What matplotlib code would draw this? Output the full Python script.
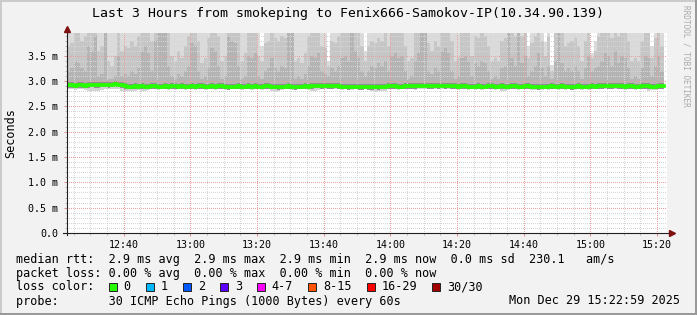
import numpy as np
import matplotlib
matplotlib.use("Agg")
import matplotlib.pyplot as plt
from matplotlib.ticker import MultipleLocator
from matplotlib.patches import Rectangle

W, H = 697, 315
plt.rcParams['font.family'] = ['DejaVu Sans Mono', 'DejaVu Sans']

# time axis: minutes after 12:00, window 12:22:59 .. 15:22:59
t_start = 22 + 59 / 60.0
t_end = t_start + 180

# median rtt per minute (ms)
median = [
    2.92, 2.92, 2.91, 2.92, 2.92, 2.91, 2.92, 2.93, 2.92, 2.92, 2.93, 2.93, 2.92, 2.93, 2.94, 2.93, 2.92, 2.90, 2.89, 2.89,
    2.90, 2.89, 2.90, 2.89, 2.89, 2.90, 2.90, 2.89, 2.89, 2.90, 2.89, 2.90, 2.90, 2.89, 2.90, 2.89, 2.89, 2.90, 2.89, 2.90,
    2.90, 2.89, 2.89, 2.90, 2.89, 2.90, 2.90, 2.89, 2.88, 2.89, 2.89, 2.90, 2.89, 2.89, 2.90, 2.89, 2.90, 2.89, 2.89, 2.90,
    2.90, 2.89, 2.89, 2.88, 2.89, 2.89, 2.90, 2.89, 2.88, 2.89, 2.89, 2.90, 2.89, 2.90, 2.91, 2.91, 2.90, 2.91, 2.90, 2.90,
    2.91, 2.90, 2.89, 2.89, 2.88, 2.89, 2.89, 2.88, 2.88, 2.89, 2.88, 2.88, 2.89, 2.88, 2.89, 2.89, 2.90, 2.90, 2.90, 2.89,
    2.89, 2.90, 2.90, 2.90, 2.90, 2.91, 2.91, 2.91, 2.90, 2.90, 2.91, 2.90, 2.91, 2.90, 2.91, 2.90, 2.90, 2.89, 2.90, 2.90,
    2.89, 2.89, 2.89, 2.90, 2.89, 2.89, 2.90, 2.90, 2.89, 2.89, 2.90, 2.89, 2.89, 2.90, 2.90, 2.89, 2.89, 2.90, 2.90, 2.89,
    2.89, 2.88, 2.89, 2.89, 2.89, 2.90, 2.89, 2.89, 2.90, 2.89, 2.89, 2.88, 2.89, 2.90, 2.89, 2.89, 2.89, 2.90, 2.89, 2.90,
    2.90, 2.91, 2.90, 2.90, 2.91, 2.90, 2.90, 2.89, 2.90, 2.90, 2.89, 2.89, 2.90, 2.90, 2.90, 2.89, 2.89, 2.90, 2.90,
]

# lowest ping per minute (ms)
smoke_lo = [
    2.84, 2.84, 2.83, 2.84, 2.84, 2.83, 2.80, 2.80, 2.81, 2.80, 2.82, 2.84, 2.84, 2.85, 2.85, 2.84, 2.81, 2.80, 2.80, 2.81,
    2.80, 2.82, 2.80, 2.81, 2.82, 2.84, 2.84, 2.83, 2.84, 2.84, 2.83, 2.84, 2.83, 2.84, 2.84, 2.83, 2.84, 2.84, 2.82, 2.84,
    2.84, 2.83, 2.84, 2.84, 2.82, 2.84, 2.84, 2.83, 2.82, 2.84, 2.84, 2.84, 2.83, 2.84, 2.84, 2.83, 2.84, 2.84, 2.83, 2.84,
    2.84, 2.80, 2.79, 2.80, 2.83, 2.84, 2.84, 2.83, 2.82, 2.84, 2.84, 2.84, 2.83, 2.80, 2.80, 2.83, 2.84, 2.84, 2.84, 2.84,
    2.84, 2.84, 2.83, 2.84, 2.82, 2.83, 2.84, 2.83, 2.82, 2.84, 2.83, 2.80, 2.79, 2.80, 2.80, 2.81, 2.84, 2.84, 2.84, 2.83,
    2.84, 2.84, 2.84, 2.84, 2.83, 2.85, 2.85, 2.84, 2.84, 2.84, 2.85, 2.84, 2.84, 2.84, 2.85, 2.84, 2.84, 2.83, 2.84, 2.84,
    2.83, 2.84, 2.83, 2.84, 2.83, 2.84, 2.84, 2.84, 2.83, 2.84, 2.80, 2.80, 2.83, 2.84, 2.84, 2.83, 2.84, 2.84, 2.84, 2.83,
    2.83, 2.82, 2.83, 2.84, 2.83, 2.84, 2.84, 2.83, 2.84, 2.83, 2.84, 2.82, 2.83, 2.84, 2.83, 2.84, 2.83, 2.84, 2.84, 2.84,
    2.84, 2.85, 2.84, 2.84, 2.85, 2.84, 2.84, 2.83, 2.84, 2.84, 2.83, 2.84, 2.84, 2.84, 2.80, 2.82, 2.83, 2.84, 2.84,
]

# top of the darker smoke layer (ms)
dark_top = [
    3.20, 3.25, 3.40, 3.35, 3.25, 3.20, 3.70, 3.60, 3.90, 3.10, 3.15, 4.30, 3.05, 3.05, 3.10, 3.50, 3.10, 3.15, 3.10, 3.20,
    3.15, 3.25, 3.60, 3.70, 3.55, 3.20, 3.80, 4.30, 4.30, 4.30, 3.30, 3.10, 3.05, 3.15, 3.10, 3.20, 3.30, 3.75, 3.70, 3.20,
    3.05, 3.10, 3.25, 3.65, 3.60, 3.30, 3.05, 3.10, 3.90, 3.80, 3.75, 3.30, 3.05, 3.10, 3.50, 3.45, 3.55, 3.10, 3.05, 3.20,
    3.25, 3.45, 3.25, 3.20, 3.30, 3.25, 4.30, 4.00, 3.05, 3.10, 3.05, 3.15, 3.30, 3.50, 3.45, 3.55, 3.20, 3.15, 3.10, 3.25,
    3.20, 3.30, 3.45, 3.50, 3.40, 4.30, 3.60, 3.45, 3.20, 3.10, 3.20, 3.30, 3.25, 3.35, 3.30, 3.40, 3.20, 3.50, 3.55, 3.45,
    3.50, 3.20, 3.05, 3.10, 3.40, 3.55, 4.30, 4.10, 3.20, 3.15, 3.25, 3.20, 3.60, 3.65, 3.55, 3.20, 3.05, 3.10, 3.45, 3.50,
    3.40, 3.10, 3.35, 3.30, 3.40, 3.35, 3.20, 3.05, 3.10, 3.05, 3.25, 3.30, 4.30, 3.45, 3.30, 4.20, 3.35, 3.50, 3.10, 3.20,
    3.30, 3.55, 3.25, 3.10, 3.30, 3.05, 3.40, 4.30, 3.35, 3.20, 3.25, 3.20, 3.30, 3.20, 3.05, 3.25, 3.50, 3.20, 3.25, 3.30,
    3.40, 3.55, 3.50, 3.30, 3.60, 3.35, 3.50, 3.45, 3.25, 3.05, 3.10, 3.05, 3.25, 3.50, 3.45, 3.10, 3.30, 3.50, 3.20,
]

# top of the medium smoke layer (ms)
mid_top = [
    3.70, 3.75, 4.30, 4.30, 3.80, 3.90, 4.30, 4.30, 4.30, 3.60, 3.70, 4.30, 3.40, 3.30, 3.50, 4.30, 3.60, 3.70, 3.65, 3.80,
    3.70, 3.90, 4.30, 4.30, 4.30, 3.80, 4.30, 4.30, 4.30, 4.30, 4.00, 3.50, 3.40, 3.60, 3.45, 3.70, 3.90, 4.30, 4.30, 3.80,
    3.35, 3.45, 3.85, 4.30, 4.30, 3.90, 3.40, 3.50, 4.30, 4.30, 4.30, 3.95, 3.40, 3.55, 4.30, 4.30, 4.30, 3.50, 3.40, 3.75,
    3.80, 4.30, 3.85, 3.80, 3.90, 3.85, 4.30, 4.30, 3.40, 3.45, 3.35, 3.55, 3.90, 4.30, 4.30, 4.30, 3.70, 3.65, 3.30, 3.80,
    3.75, 3.90, 4.30, 4.30, 4.30, 4.30, 4.30, 4.30, 3.70, 3.40, 3.70, 3.80, 3.75, 3.85, 3.80, 3.95, 3.70, 4.30, 4.30, 4.30,
    4.30, 3.70, 3.40, 3.45, 4.30, 4.30, 4.30, 4.30, 3.75, 3.60, 3.80, 3.70, 4.30, 4.30, 4.30, 3.80, 3.40, 3.45, 4.30, 4.30,
    4.30, 3.50, 3.90, 3.85, 4.00, 3.90, 3.70, 3.40, 3.45, 3.40, 3.80, 3.85, 4.30, 4.30, 3.90, 4.30, 3.90, 4.30, 3.45, 3.75,
    3.90, 4.30, 3.80, 3.50, 3.90, 3.20, 4.00, 4.30, 3.95, 3.70, 3.75, 3.80, 3.85, 3.70, 3.40, 3.80, 4.30, 3.45, 3.60, 3.90,
    4.00, 4.30, 4.30, 3.85, 4.30, 3.90, 4.30, 4.30, 3.80, 3.40, 3.45, 3.40, 3.80, 4.30, 4.30, 3.45, 3.85, 4.30, 3.70,
]

# highest ping per minute (ms); 4.30 = above the graph
smoke_top = [4.30] * 179
smoke_gaps = {58: 3.70, 78: 3.40, 89: 3.60, 138: 3.70, 143: 3.78,
              145: 3.32, 157: 3.55, 158: 3.80, 175: 3.70}
for k, v in smoke_gaps.items():
    smoke_top[k] = v

y_ticks = [0.0, 0.5, 1.0, 1.5, 2.0, 2.5, 3.0, 3.5]
y_tick_labels = ["0.0", "0.5 m", "1.0 m", "1.5 m", "2.0 m", "2.5 m", "3.0 m", "3.5 m"]
x_ticks = [40, 60, 80, 100, 120, 140, 160, 180, 200]
x_tick_labels = ["12:40", "13:00", "13:20", "13:40", "14:00", "14:20", "14:40", "15:00", "15:20"]

loss_labels = ["0", "1", "2", "3", "4-7", "8-15", "16-29", "30/30"]
loss_colors = ["#26ff00", "#00b8ff", "#0059ff", "#5e00ff", "#ff00ff", "#ff5500", "#ff0000", "#a10000"]

rtt_avg, rtt_max, rtt_min, rtt_now, rtt_sd, rtt_ams = 2.9, 2.9, 2.9, 2.9, 0.0, 230.1
loss_avg, loss_max, loss_min, loss_now = 0.00, 0.00, 0.00, 0.00

title = "Last 3 Hours from smokeping to Fenix666-Samokov-IP(10.34.90.139)"
probe = "30 ICMP Echo Pings (1000 Bytes) every 60s"
stamp = "Mon Dec 29 15:22:59 2025"

median = np.array(median)
smoke_lo = np.array(smoke_lo)
smoke_top = np.array(smoke_top)
dark_top = np.minimum(np.array(dark_top), smoke_top)
mid_top = np.minimum(np.array(mid_top), smoke_top)
t = t_start + np.arange(len(median))

fig = plt.figure(figsize=(W / 100, H / 100), dpi=100)
fig.patch.set_facecolor('#F2F2F2')

# bevel border
fig.add_artist(Rectangle((0, 1 - 2 / H), 1, 2 / H, transform=fig.transFigure, color='#CBCBCB', lw=0))
fig.add_artist(Rectangle((0, 0), 2 / W, 1, transform=fig.transFigure, color='#CBCBCB', lw=0))
fig.add_artist(Rectangle((0, 0), 1, 2 / H, transform=fig.transFigure, color='#999999', lw=0))
fig.add_artist(Rectangle((1 - 2 / W, 0), 2 / W, 1, transform=fig.transFigure, color='#999999', lw=0))

ax = fig.add_axes([67 / W, (H - 233) / H, 600 / W, 200 / H])
ax.set_facecolor('white')
ax.set_xlim(t_start, t_end)
ax.set_ylim(0, 3.95)

# smoke layers
core_lo = median - 0.05
core_hi = median + 0.06
ax.bar(t, core_lo - smoke_lo, bottom=smoke_lo, width=1, align='edge', color='#D2D2D2', lw=0, zorder=1)
ax.bar(t, core_hi - core_lo, bottom=core_lo, width=1, align='edge', color='#909090', lw=0, zorder=1)
ax.bar(t, dark_top - core_hi, bottom=core_hi, width=1, align='edge', color='#B4B4B4', lw=0, zorder=1)
ax.bar(t, mid_top - dark_top, bottom=dark_top, width=1, align='edge', color='#C6C6C6', lw=0, zorder=1)
ax.bar(t, smoke_top - mid_top, bottom=mid_top, width=1, align='edge', color='#DBDBDB', lw=0, zorder=1)

# median line, 0 loss colour
ax.step(np.append(t, t[-1] + 1), np.append(median, median[-1]), where='post',
        color=loss_colors[0], lw=2.7, zorder=4)

# ticks
ax.set_xticks(x_ticks)
ax.set_xticklabels(x_tick_labels)
ax.set_yticks(y_ticks)
ax.set_yticklabels(y_tick_labels)
ax.xaxis.set_minor_locator(MultipleLocator(5))
ax.yaxis.set_minor_locator(MultipleLocator(0.1))
ax.tick_params(which='major', length=2.2, width=0.72, color='#E09090', labelsize=7.2, pad=2.5)
ax.tick_params(which='minor', length=1.5, width=0.72, color='#BBBBBB')
ax.tick_params(axis='y', which='major', pad=4)
for s in ax.spines.values():
    s.set_visible(False)

# dotted grid, minor lines skip the major positions
dots = (0.5, (1, 1))
for xm in range(25, 203, 5):
    if xm not in x_ticks:
        ax.axvline(xm, color='#D6D6D6', lw=0.72, ls=dots, zorder=2.5)
for k in range(1, 40):
    if k % 5:
        ax.axhline(k / 10, color='#D6D6D6', lw=0.72, ls=dots, zorder=2.5)
for xm in x_ticks:
    ax.axvline(xm, color='#EBA0A0', lw=0.72, ls=dots, zorder=2.6)
for ym in y_ticks[1:]:
    ax.axhline(ym, color='#EBA0A0', lw=0.72, ls=dots, zorder=2.6)

# axes with arrows
ax.plot([-0.007, 1.006], [0, 0], transform=ax.transAxes, color='#202020', lw=0.8, clip_on=False, zorder=5)
ax.plot([0, 0], [-0.01, 1.02], transform=ax.transAxes, color='#202020', lw=0.8, clip_on=False, zorder=5)
ax.plot(0, 1.022, marker='^', ms=4.2, color='#7F1010', transform=ax.transAxes, clip_on=False, zorder=6)
ax.plot(1.0075, 0, marker='>', ms=4.2, color='#7F1010', transform=ax.transAxes, clip_on=False, zorder=6)

ax.set_ylabel("Seconds", fontsize=8.5, labelpad=8)

def px(x, y):
    return x / W, 1 - y / H

fig.text(*px(348, 14), title, fontsize=9.5, ha='center', va='center')
fig.text(*px(686, 5), "RRDTOOL / TOBI OETIKER", fontsize=5.6, color='#AAAAAA',
         rotation=270, ha='center', va='top')

line1 = ("median rtt:  %.1f ms avg  %.1f ms max  %.1f ms min  %.1f ms now  %.1f ms sd  %.1f   am/s"
         % (rtt_avg, rtt_max, rtt_min, rtt_now, rtt_sd, rtt_ams))
line2 = ("packet loss: %.2f %% avg  %.2f %% max  %.2f %% min  %.2f %% now"
         % (loss_avg, loss_max, loss_min, loss_now))
fs = 8.5
cw = 7.125
fig.text(*px(16, 259), line1, fontsize=fs, ha='left', va='center')
fig.text(*px(16, 273), line2, fontsize=fs, ha='left', va='center')
fig.text(*px(16, 287), "loss color:", fontsize=fs, ha='left', va='center')
fig.text(*px(16, 301), "probe:       " + probe, fontsize=fs, ha='left', va='center')
fig.text(*px(680, 301), stamp, fontsize=fs, ha='right', va='center')

# loss colour swatches
bx = 16 + 13 * cw
for lab, col in zip(loss_labels, loss_colors):
    fig.add_artist(Rectangle((bx / W, 1 - 291 / H), 8 / W, 8 / H, transform=fig.transFigure,
                             facecolor=col, edgecolor='#222222', lw=0.7))
    fig.text(*px(bx + 2.1 * cw, 287), lab, fontsize=fs, ha='left', va='center')
    bx += (4.2 + len(lab)) * cw

fig.savefig("out.png", dpi=100, facecolor=fig.get_facecolor())
